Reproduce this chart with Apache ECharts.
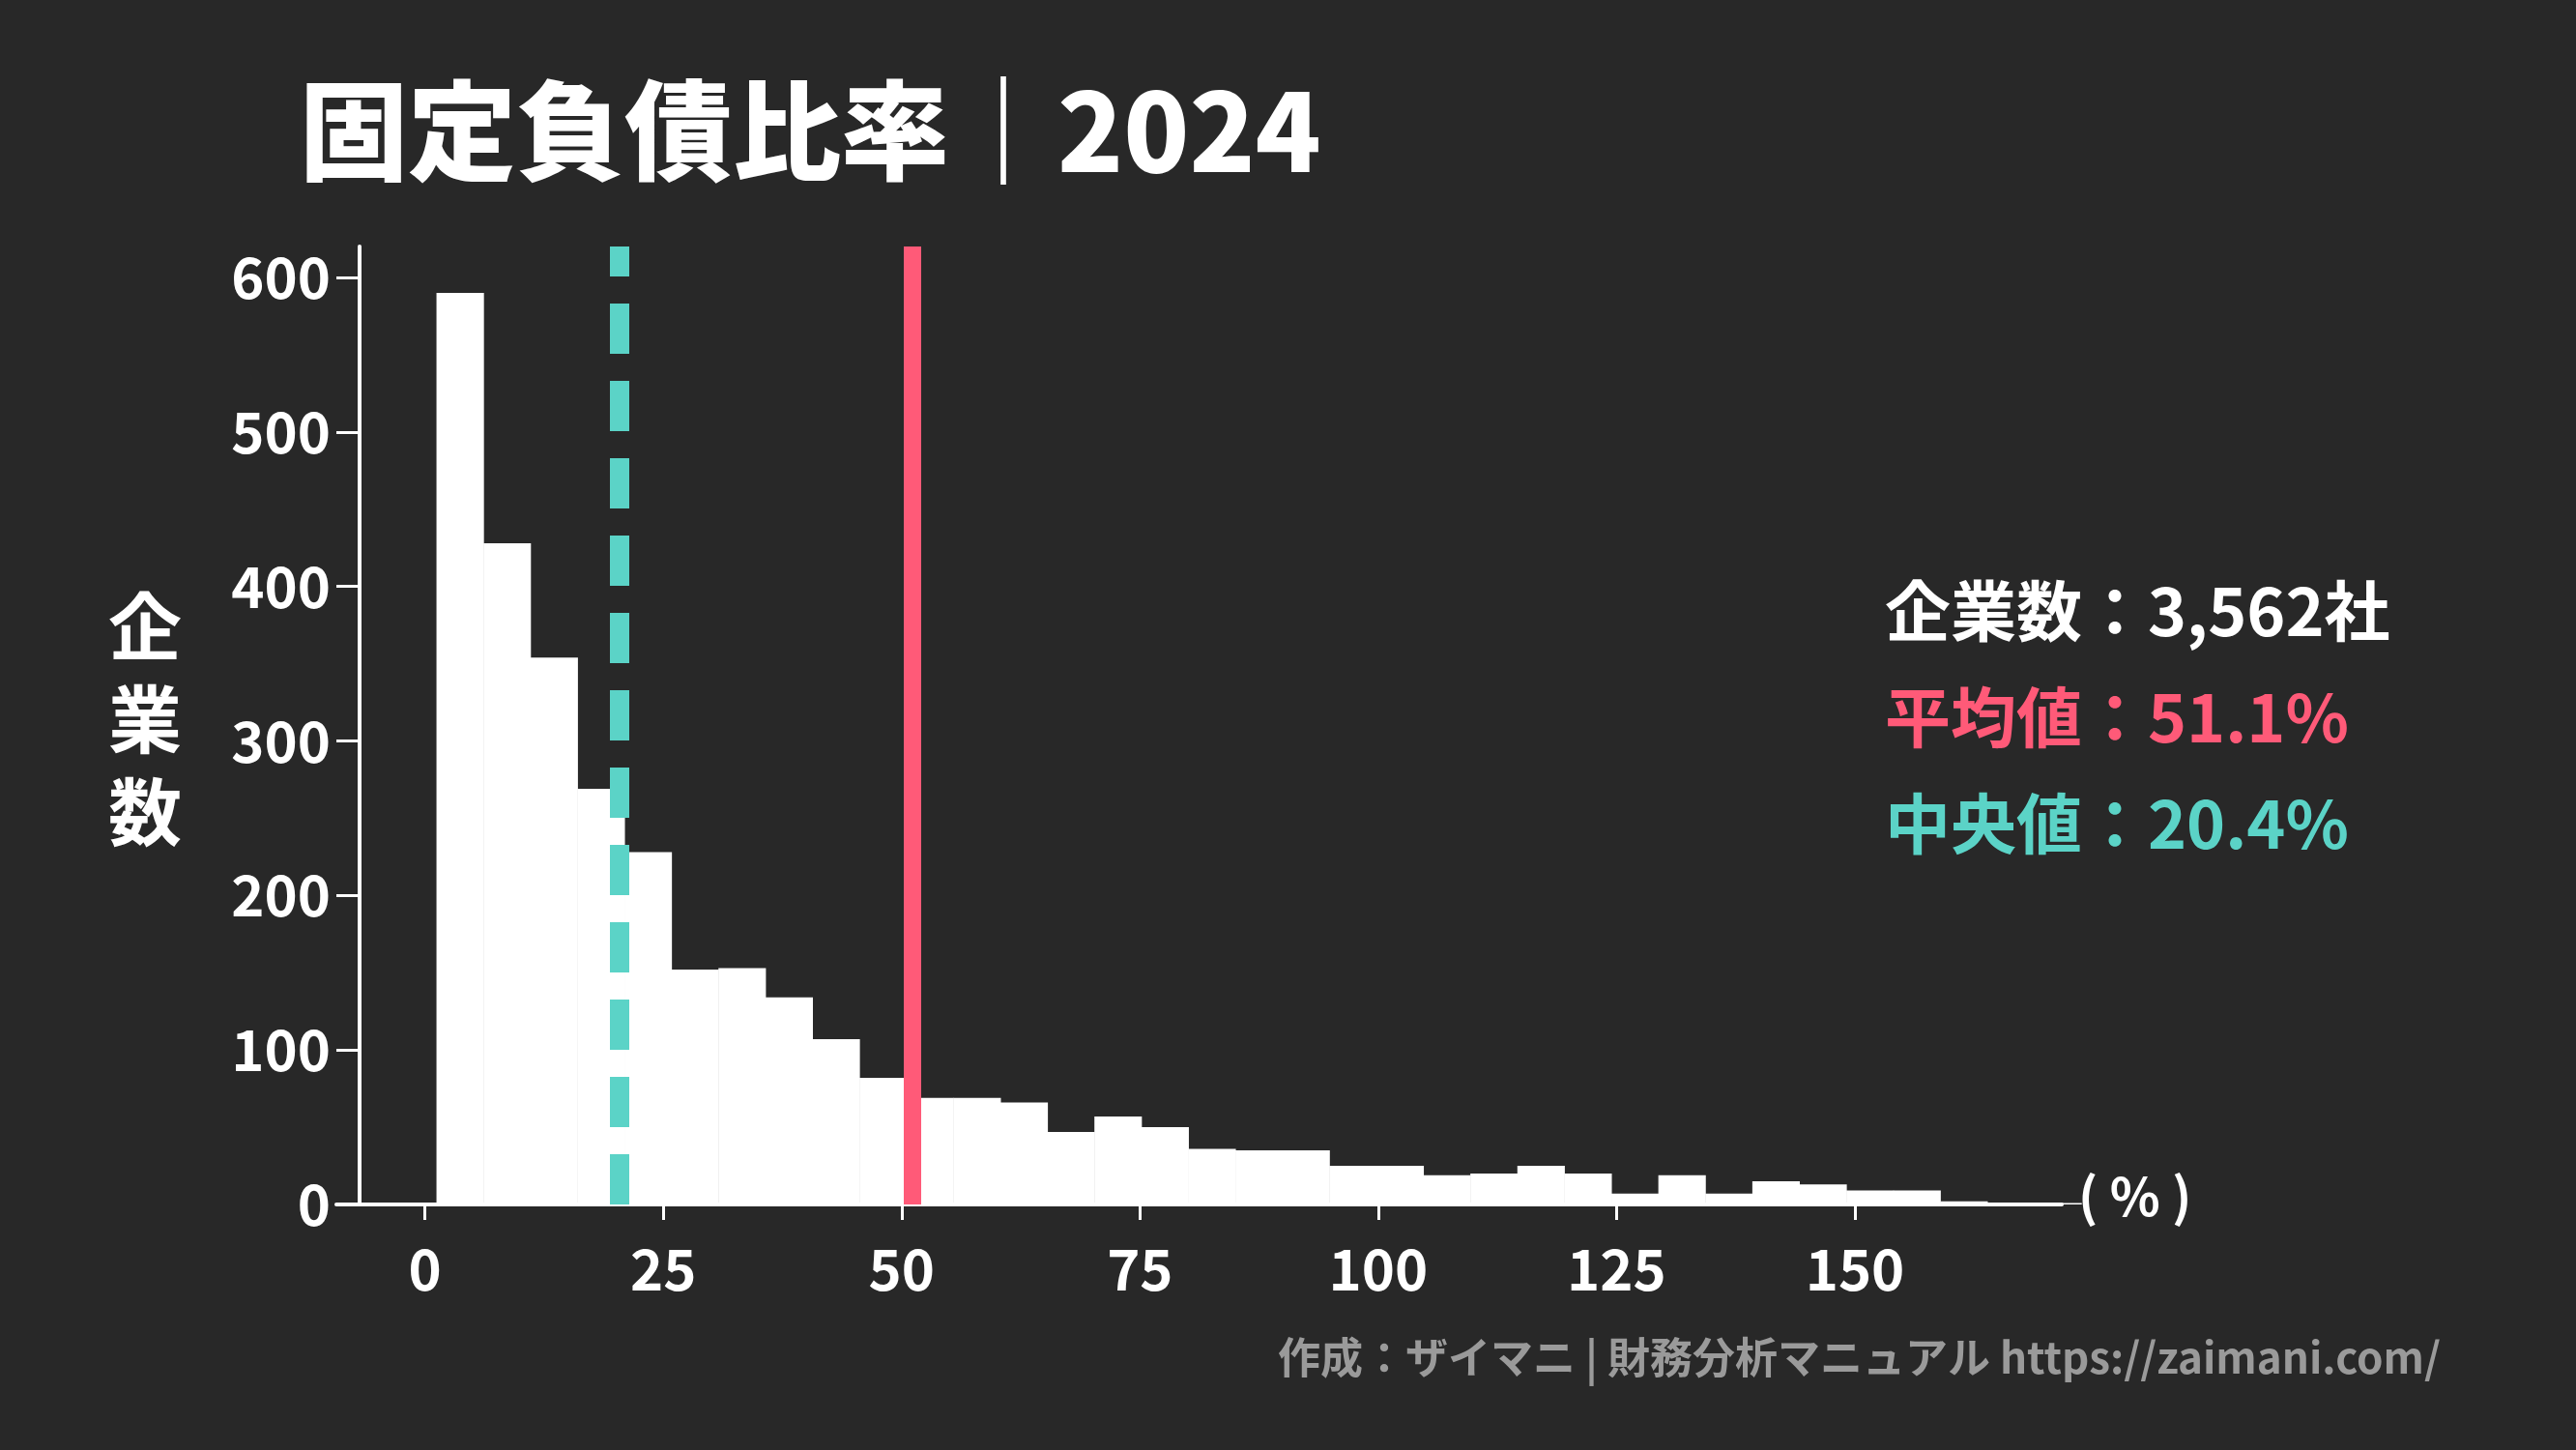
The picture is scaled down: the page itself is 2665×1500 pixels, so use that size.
<!DOCTYPE html>
<html><head><meta charset="utf-8">
<script src="https://cdn.jsdelivr.net/npm/echarts@6/dist/echarts.min.js"></script>
<style>html,body{margin:0;background:#282828}#c{width:2665px;height:1500px}</style>
</head><body><div id="c"></div>
<script>
const binStart = 1.2;
const binWidth = 4.93;
const counts = [590,428,354,269,228,152,153,134,107,82,
  69,69,66,47,57,50,36,35,35,25,25,19,20,25,20,7,19,7,15,13,9,9,2,1,1];
const meanVal = 51.1, medianVal = 20.4;
const yTicks = [0,100,200,300,400,500,600];
const xTicks = [0,25,50,75,100,125,150];
const infoLines = ['企業数：3,562社','平均値：51.1%','中央値：20.4%'];

const data = counts.map((c,i)=>[binStart+i*binWidth, binStart+(i+1)*binWidth, c]);
const F = '"Noto Sans CJK JP","Noto Sans",sans-serif';
const chart = echarts.init(document.getElementById('c'));
chart.setOption({
  backgroundColor:'#282828',
  animation:false,
  title:{text:'固定負債比率｜2024',left:305,top:74,textStyle:{color:'#fff',fontSize:112,fontWeight:900,fontFamily:F}},
  grid:{left:348,right:532,top:255,bottom:254},
  xAxis:{type:'value',min:-9.3,max:171.7,interval:25,
    axisLine:{show:true,lineStyle:{color:'#fff',width:4}},
    axisTick:{show:true,length:16,lineStyle:{color:'#fff',width:3},customValues:xTicks},
    axisLabel:{color:'#fff',fontSize:58,fontWeight:'bold',fontFamily:F,margin:38,customValues:xTicks},
    splitLine:{show:false}},
  yAxis:{type:'value',min:0,max:620,offset:-24,
    axisLine:{show:true,onZero:false,lineStyle:{color:'#fff',width:4}},
    axisTick:{show:true,length:24,lineStyle:{color:'#fff',width:3},customValues:yTicks},
    axisLabel:{color:'#fff',fontSize:58,fontWeight:'bold',fontFamily:F,margin:30,customValues:yTicks},
    splitLine:{show:false}},
  graphic:[
    {type:'text',left:112,top:600,style:{text:'企\n業\n数',fill:'#fff',font:'bold 76px '+F,lineHeight:96}},
    {type:'text',left:2150,top:1210,style:{text:'( % )',fill:'#fff',font:'bold 54px '+F}},
    {type:'text',left:1950,top:598,style:{text:infoLines[0],fill:'#fff',font:'bold 68px '+F}},
    {type:'text',left:1950,top:708,style:{text:infoLines[1],fill:'#ff5a78',font:'bold 68px '+F}},
    {type:'text',left:1950,top:818,style:{text:infoLines[2],fill:'#5bd3c7',font:'bold 68px '+F}},
    {type:'text',right:140,top:1382,style:{text:'作成：ザイマニ | 財務分析マニュアル https://zaimani.com/',fill:'#9a9a9a',font:'bold 44px '+F}}
  ],
  series:[{
    type:'custom',
    data:data,
    encode:{x:[0,1],y:2},
    renderItem:(p,api)=>{
      const a=api.coord([api.value(0),api.value(2)]);
      const b=api.coord([api.value(1),0]);
      return {type:'rect',shape:{x:a[0],y:a[1],width:b[0]-a[0]+0.5,height:b[1]-a[1]},style:{fill:'#fff'}};
    },
    markLine:{silent:true,symbol:'none',label:{show:false},
      data:[
        {xAxis:medianVal,lineStyle:{color:'#5bd3c7',width:20,type:[52,28]}},
        {xAxis:meanVal,lineStyle:{color:'#ff5a78',width:18,type:'solid'}}
      ]}
  }]
});
</script></body></html>
